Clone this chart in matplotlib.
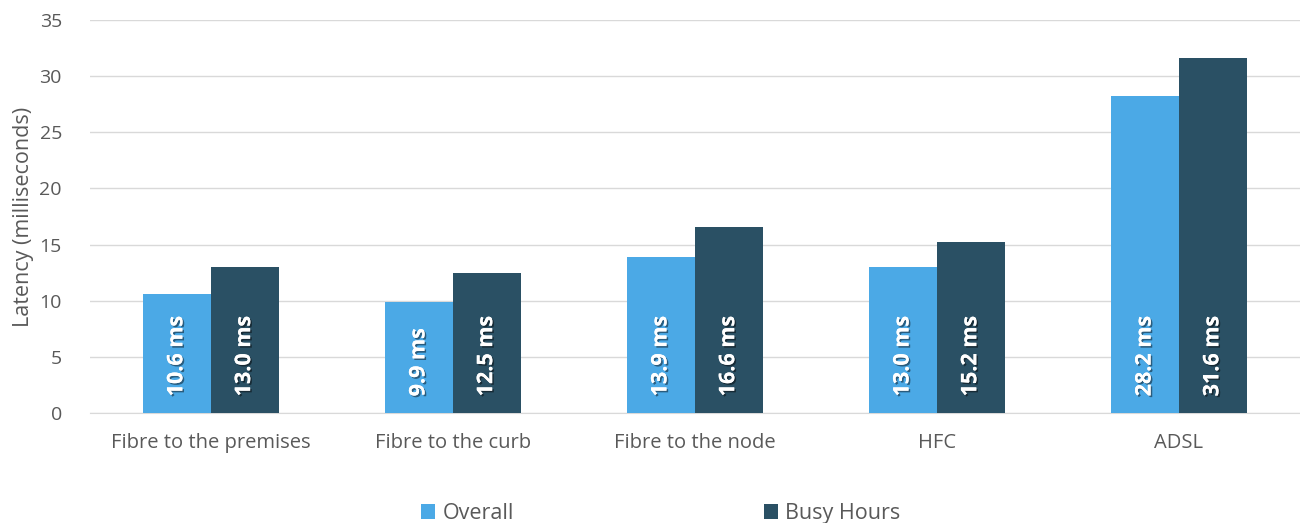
import matplotlib.pyplot as plt
import matplotlib.patheffects as pe
import numpy as np

plt.rcParams['font.family'] = ['Open Sans', 'DejaVu Sans']

categories = ['Fibre to the premises', 'Fibre to the curb', 'Fibre to the node', 'HFC', 'ADSL']
overall = [10.6, 9.9, 13.9, 13.0, 28.2]
busy = [13.0, 12.5, 16.6, 15.2, 31.6]
series_names = ['Overall', 'Busy Hours']
colors = ['#4BA9E6', '#2A5064']

fig = plt.figure(figsize=(13, 5.23), dpi=100)
ax = fig.add_axes([0.069, 0.21, 0.931, 0.752])

x = np.arange(len(categories))
w = 0.28
grey = '#595959'

for vals, off, col, name in [(overall, -w / 2, colors[0], series_names[0]),
                              (busy, w / 2, colors[1], series_names[1])]:
    ax.bar(x + off, vals, w, color=col, label=name, zorder=3)
    for xi, v in zip(x + off, vals):
        ax.text(xi, 1.5, f'{v:.1f} ms', rotation=90, ha='center', va='bottom',
                color='white', fontsize=15.5, fontweight='bold', zorder=4,
                path_effects=[pe.withSimplePatchShadow(offset=(1.2, -1.2), shadow_rgbFace='black', alpha=0.45),
                              pe.Normal()])

ax.set_xlim(-0.5, len(categories) - 0.5)
ax.set_ylim(0, 35)
ax.set_yticks(range(0, 36, 5))
ax.set_xticks(x)
ax.set_xticklabels(categories)
ax.tick_params(axis='both', length=0, labelsize=14.5, colors=grey)
ax.tick_params(axis='y', labelsize=14, pad=20)
ax.tick_params(axis='x', pad=14)
ax.grid(axis='y', color='#D9D9D9', linewidth=1, zorder=0)
for s in ['top', 'right', 'left']:
    ax.spines[s].set_visible(False)
ax.spines['bottom'].set_color('#D9D9D9')
ax.set_ylabel('Latency (milliseconds)', fontsize=15.5, color=grey, labelpad=4)

ax.legend(loc='center', bbox_to_anchor=(0.472, -0.255), ncol=2, frameon=False,
          fontsize=15.5, labelcolor=grey, handlelength=0.65, handleheight=0.65,
          handletextpad=0.35, columnspacing=11.6)

fig.savefig('out.png', dpi=100)
